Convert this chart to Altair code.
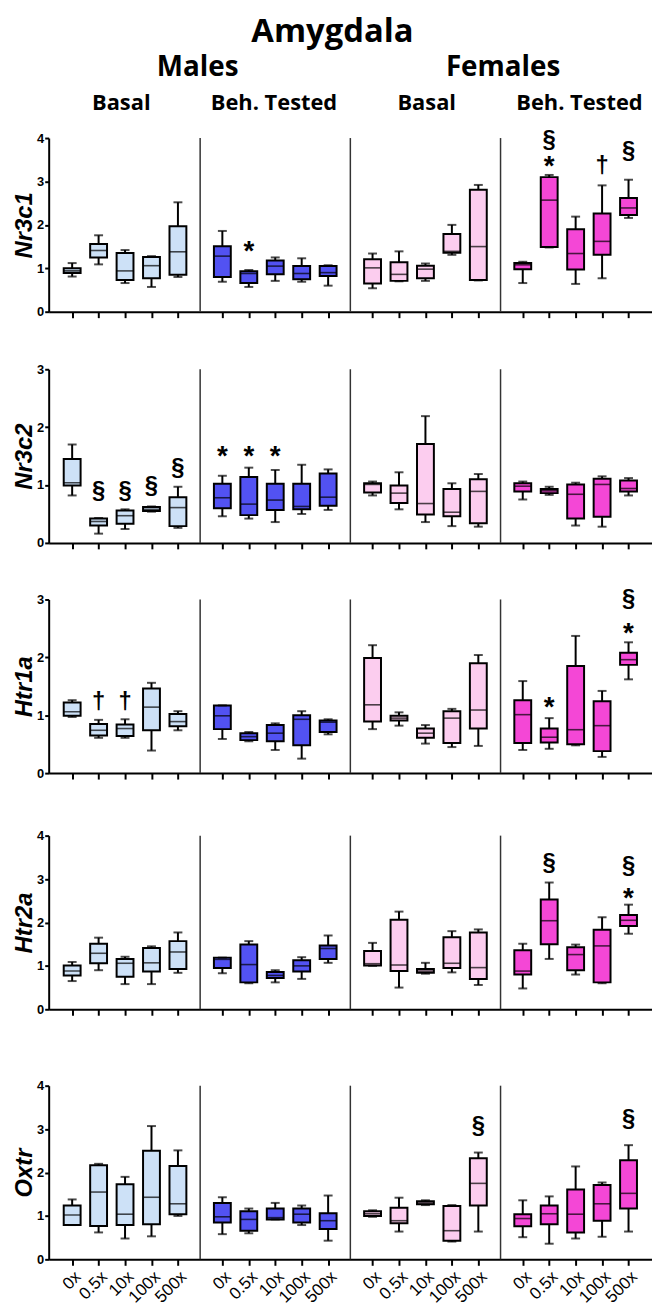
import altair as alt
import pandas as pd

# ---------------- data ----------------
GENES = ["Nr3c1", "Nr3c2", "Htr1a", "Htr2a", "Oxtr"]
GENE_YMAX = [4, 3, 3, 4, 4]
GROUPS = ["Males Basal", "Males Beh. Tested", "Females Basal", "Females Beh. Tested"]
SEX_LABELS = ["Males", "Females"]
COND_LABELS = ["Basal", "Beh. Tested", "Basal", "Beh. Tested"]
DOSES = ["0x", "0.5x", "10x", "100x", "500x"]
GROUP_COLORS = ["#cde1f7", "#5252f2", "#fccdef", "#f447d6"]

# (min, q1, median, q3, max) per dose; groups: M-Basal, M-Tested, F-Basal, F-Tested
NR3C1 = [
    (0.81, 0.89, 0.94, 1.00, 1.12), (1.09, 1.25, 1.41, 1.56, 1.76), (0.66, 0.73, 0.94, 1.35, 1.42), (0.57, 0.77, 1.06, 1.26, 1.28), (0.80, 0.85, 1.38, 1.97, 2.52),
    (0.69, 0.80, 1.28, 1.51, 1.86), (0.57, 0.66, 0.88, 0.93, 0.96), (0.71, 0.86, 1.05, 1.18, 1.25), (0.69, 0.75, 0.88, 1.05, 1.23), (0.60, 0.82, 0.90, 1.05, 1.07),
    (0.54, 0.65, 1.01, 1.21, 1.34), (0.70, 0.71, 0.86, 1.14, 1.39), (0.71, 0.77, 0.98, 1.06, 1.11), (1.31, 1.36, 1.39, 1.79, 2.00), (0.72, 0.73, 1.50, 2.81, 2.92),
    (0.66, 0.98, 1.08, 1.12, 1.15), (1.48, 1.49, 2.57, 3.10, 3.15), (0.64, 0.97, 1.34, 1.90, 2.19), (0.77, 1.31, 1.62, 2.26, 2.91), (2.16, 2.23, 2.39, 2.62, 3.04),
]
NR3C2 = [
    (0.82, 0.99, 1.04, 1.45, 1.70), (0.16, 0.30, 0.37, 0.42, 0.43), (0.24, 0.33, 0.47, 0.56, 0.58), (0.54, 0.55, 0.58, 0.62, 0.63), (0.26, 0.29, 0.61, 0.79, 0.97),
    (0.46, 0.60, 0.78, 1.02, 1.16), (0.42, 0.48, 0.67, 1.14, 1.30), (0.36, 0.57, 0.74, 1.02, 1.26), (0.50, 0.58, 0.63, 1.02, 1.35), (0.57, 0.64, 0.79, 1.20, 1.27),
    (0.82, 0.87, 1.01, 1.03, 1.06), (0.58, 0.69, 0.86, 0.99, 1.22), (0.36, 0.49, 0.68, 1.71, 2.19), (0.29, 0.46, 0.53, 0.93, 1.03), (0.28, 0.34, 0.89, 1.10, 1.19),
    (0.75, 0.89, 0.98, 1.03, 1.06), (0.83, 0.86, 0.90, 0.93, 0.97), (0.30, 0.42, 0.84, 1.01, 1.04), (0.28, 0.45, 1.01, 1.11, 1.15), (0.82, 0.89, 0.94, 1.08, 1.12),
]
HTR1A = [
    (0.97, 0.99, 1.06, 1.22, 1.26), (0.61, 0.65, 0.74, 0.85, 0.92), (0.61, 0.64, 0.77, 0.84, 0.93), (0.39, 0.74, 1.14, 1.46, 1.56), (0.74, 0.81, 0.89, 1.02, 1.07),
    (0.59, 0.76, 0.99, 1.17, 1.17), (0.55, 0.57, 0.63, 0.69, 0.71), (0.40, 0.55, 0.69, 0.83, 0.86), (0.25, 0.48, 0.93, 1.00, 1.07), (0.67, 0.71, 0.88, 0.91, 0.93),
    (0.76, 0.89, 1.18, 1.99, 2.21), (0.82, 0.91, 0.95, 0.99, 1.05), (0.51, 0.61, 0.69, 0.77, 0.83), (0.45, 0.52, 0.95, 1.07, 1.11), (0.47, 0.77, 1.09, 1.90, 2.04),
    (0.40, 0.52, 1.01, 1.26, 1.59), (0.42, 0.53, 0.62, 0.77, 0.95), (0.48, 0.50, 0.75, 1.85, 2.37), (0.28, 0.38, 0.82, 1.24, 1.42), (1.62, 1.87, 1.96, 2.08, 2.26),
]
HTR2A = [
    (0.65, 0.78, 0.88, 1.01, 1.09), (0.90, 1.06, 1.29, 1.51, 1.65), (0.58, 0.75, 1.06, 1.16, 1.21), (0.58, 0.87, 1.07, 1.41, 1.45), (0.84, 0.93, 1.32, 1.57, 1.77),
    (0.83, 0.95, 1.15, 1.19, 1.19), (0.60, 0.62, 1.03, 1.49, 1.57), (0.62, 0.72, 0.78, 0.86, 0.90), (0.70, 0.87, 1.00, 1.13, 1.20), (1.07, 1.16, 1.40, 1.47, 1.70),
    (1.00, 1.01, 1.05, 1.34, 1.53), (0.50, 0.88, 1.02, 2.06, 2.25), (0.82, 0.84, 0.88, 0.93, 1.07), (0.85, 0.95, 1.06, 1.66, 1.80), (0.56, 0.70, 0.96, 1.77, 1.84),
    (0.48, 0.80, 0.88, 1.36, 1.51), (1.16, 1.50, 2.04, 2.53, 2.92), (0.80, 0.90, 1.26, 1.43, 1.49), (0.60, 0.62, 1.46, 1.83, 2.12), (1.74, 1.92, 2.05, 2.17, 2.41),
]
OXTR = [
    (0.79, 0.79, 1.02, 1.24, 1.38), (0.62, 0.77, 1.55, 2.17, 2.20), (0.48, 0.79, 1.04, 1.73, 1.90), (0.53, 0.81, 1.43, 2.50, 3.07), (1.00, 1.04, 1.28, 2.15, 2.51),
    (0.58, 0.85, 0.98, 1.30, 1.43), (0.60, 0.66, 0.92, 1.11, 1.17), (0.92, 0.92, 0.96, 1.17, 1.30), (0.79, 0.85, 1.04, 1.17, 1.24), (0.43, 0.70, 0.89, 1.06, 1.47),
    (0.98, 1.00, 1.05, 1.11, 1.13), (0.64, 0.83, 0.89, 1.19, 1.42), (1.25, 1.27, 1.30, 1.34, 1.36), (0.41, 0.43, 0.66, 1.23, 1.25), (0.64, 1.24, 1.75, 2.33, 2.46),
    (0.51, 0.76, 0.94, 1.04, 1.36), (0.36, 0.81, 1.05, 1.24, 1.45), (0.48, 0.62, 1.04, 1.61, 2.14), (0.52, 0.89, 1.28, 1.71, 1.77), (0.64, 1.17, 1.52, 2.28, 2.63),
]
GENE_STATS = [NR3C1, NR3C2, HTR1A, HTR2A, OXTR]

# significance marks: (gene index, group index, dose index, symbol, y of symbol centre)
ANNOTATIONS = [
    (0, 1, 1, "*", 1.51), (0, 3, 1, "*", 3.46), (0, 3, 1, "§", 3.95), (0, 3, 3, "†", 3.35), (0, 3, 4, "§", 3.69),
    (1, 0, 1, "§", 0.89), (1, 0, 2, "§", 0.89), (1, 0, 3, "§", 0.99), (1, 0, 4, "§", 1.30),
    (1, 1, 0, "*", 1.58), (1, 1, 1, "*", 1.58), (1, 1, 2, "*", 1.58),
    (2, 0, 1, "†", 1.23), (2, 0, 2, "†", 1.23), (2, 3, 1, "*", 1.22), (2, 3, 4, "*", 2.50), (2, 3, 4, "§", 3.00),
    (3, 3, 1, "§", 3.37), (3, 3, 4, "*", 2.68), (3, 3, 4, "§", 3.31),
    (4, 2, 4, "§", 3.06), (4, 3, 4, "§", 3.23),
]

# ---------------- layout constants ----------------
GROUP_STEP = 5.68
X_DOMAIN = [-0.7, 4 + 3 * GROUP_STEP + 0.7]
PLOT_W = 608
ROW_H = 175
ROW_GAPS = [58, 57, 63, 77]
HEADER_H = 90
LABEL_FONT = "Liberation Sans"
HEAD_FONT = "Open Sans"


def pos(g, d):
    return g * GROUP_STEP + d


TICK_POS = [pos(g, d) for g in range(4) for d in range(5)]
SEP_POS = [(pos(g - 1, 4) + pos(g, 0)) / 2 for g in range(1, 4)]
DOSE_JS = "[" + ",".join("'%s'" % d for d in DOSES) + "]"
LABEL_EXPR = f"{DOSE_JS}[round(datum.value - floor((datum.value + 0.5) / {GROUP_STEP}) * {GROUP_STEP})]"

box_rows = []
for gi, stats in enumerate(GENE_STATS):
    for k, (lo, q1, med, q3, hi) in enumerate(stats):
        g, d = divmod(k, 5)
        box_rows.append(dict(gene=GENES[gi], group=GROUPS[g], dose=DOSES[d], pos=pos(g, d),
                             lo=lo, q1=q1, med=med, q3=q3, hi=hi))
boxes = pd.DataFrame(box_rows)

ann = pd.DataFrame([dict(gene=GENES[a[0]], pos=pos(a[1], a[2]), sym=a[3], y=a[4]) for a in ANNOTATIONS])

color = alt.Color("group:N", scale=alt.Scale(domain=GROUPS, range=GROUP_COLORS), legend=None)


def row_chart(i, show_labels):
    gene, ymax = GENES[i], GENE_YMAX[i]
    df = boxes[boxes.gene == gene]
    xaxis = alt.Axis(values=TICK_POS, labels=show_labels, labelExpr=LABEL_EXPR, labelAngle=-45,
                     labelFontSize=17, labelFont=LABEL_FONT, labelColor="black", labelOverlap=False,
                     labelFlush=False, labelPadding=3, title=None, tickSize=6, tickWidth=2,
                     tickColor="black", domainColor="black", domainWidth=2, grid=False)
    xscale = alt.Scale(domain=X_DOMAIN, nice=False, zero=False)
    yscale = alt.Scale(domain=[0, ymax], nice=False, zero=True)
    yaxis = alt.Axis(values=list(range(ymax + 1)), format="d", title=gene, titleFont=LABEL_FONT,
                     titleFontSize=24, titleFontStyle="italic", titleFontWeight="bold", titleColor="black",
                     titlePadding=0, labelFont=LABEL_FONT, labelFontSize=13, labelFontWeight="bold",
                     labelColor="black", labelPadding=1, tickSize=4, tickWidth=2, tickColor="black",
                     domainColor="black", domainWidth=2, grid=False, labelFlush=False)

    def X():
        return alt.X("pos:Q", scale=xscale, axis=xaxis)

    def Y(field):
        return alt.Y(f"{field}:Q", scale=yscale, axis=yaxis)

    sep_df = pd.DataFrame({"pos": SEP_POS, "base": 0.0, "top": float(ymax)})
    seps = alt.Chart(sep_df).mark_rule(color="#333333", strokeWidth=1.5).encode(x=X(), y=Y("base"), y2="top:Q")
    whisk = alt.Chart(df).mark_rule(color="black", strokeWidth=2).encode(x=X(), y=Y("lo"), y2="hi:Q")
    box = alt.Chart(df).mark_bar(size=17, stroke="black", strokeWidth=2).encode(
        x=X(), y=Y("q1"), y2="q3:Q", color=color)
    med = alt.Chart(df).mark_tick(orient="horizontal", size=17, thickness=1.6, color="black").encode(
        x=X(), y=Y("med"))
    cap_hi = alt.Chart(df).mark_tick(orient="horizontal", size=9, thickness=2, color="black").encode(
        x=X(), y=Y("hi"))
    cap_lo = alt.Chart(df).mark_tick(orient="horizontal", size=9, thickness=2, color="black").encode(
        x=X(), y=Y("lo"))
    layers = [seps, whisk, box, med, cap_hi, cap_lo]
    a = ann[ann.gene == gene]
    other = a[a.sym != "*"]
    stars = a[a.sym == "*"]
    if len(other):
        layers.append(alt.Chart(other).mark_text(font=LABEL_FONT, fontSize=24, fontWeight="bold",
                                                 color="black", baseline="middle").encode(
            x=X(), y=Y("y"), text="sym:N"))
    if len(stars):
        layers.append(alt.Chart(stars).mark_text(font=LABEL_FONT, fontSize=28, fontWeight="bold",
                                                 color="black", baseline="middle", dy=6).encode(
            x=X(), y=Y("y"), text="sym:N"))
    return alt.layer(*layers).properties(width=PLOT_W, height=ROW_H)


def spacer(h):
    return alt.Chart(pd.DataFrame({"v": [0]})).mark_point(opacity=0).encode(
        x=alt.X("v:Q", axis=None), y=alt.Y("v:Q", axis=None)).properties(width=PLOT_W, height=h)


# header: sex level (1) and condition level (0)
sex_df = pd.DataFrame({"label": SEX_LABELS, "pos": [SEP_POS[0], SEP_POS[2]], "level": 1})
cond_df = pd.DataFrame({"label": COND_LABELS, "pos": [pos(g, 2) for g in range(4)], "level": 0})
hx = alt.X("pos:Q", scale=alt.Scale(domain=X_DOMAIN, nice=False, zero=False), axis=None)
hy = alt.Y("level:Q", scale=alt.Scale(domain=[-1.0, 1.57], nice=False, zero=False), axis=None)
header = alt.layer(
    alt.Chart(sex_df).mark_text(font=HEAD_FONT, fontSize=28, fontWeight="bold", color="black").encode(
        x=hx, y=hy, text="label:N"),
    alt.Chart(cond_df).mark_text(font=HEAD_FONT, fontSize=22, fontWeight="bold", color="black").encode(
        x=hx, y=hy, text="label:N"),
).properties(width=PLOT_W, height=HEADER_H)

parts = [header]
for i in range(len(GENES)):
    parts.append(row_chart(i, show_labels=(i == len(GENES) - 1)))
    if i < len(ROW_GAPS):
        parts.append(spacer(ROW_GAPS[i]))

chart = alt.vconcat(*parts, spacing=0, bounds="flush").properties(
    title=alt.Title("Amygdala", fontSize=33, font=HEAD_FONT, fontWeight="bold", anchor="middle",
                    offset=0, color="black"),
    padding={"left": 4, "top": 3, "right": 0, "bottom": 0},
).configure_view(stroke=None)

chart.save("out.html", embed_options={"renderer": "svg", "actions": False})
